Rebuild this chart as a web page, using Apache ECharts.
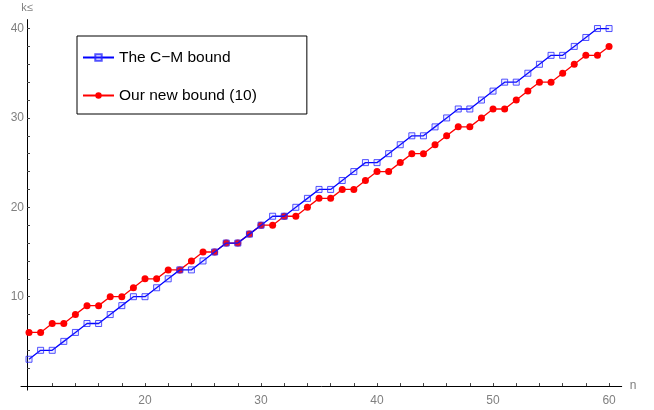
<!DOCTYPE html>
<html>
<head>
<meta charset="utf-8">
<script src="https://cdn.jsdelivr.net/npm/echarts@6/dist/echarts.min.js"></script>
<style>
html,body{margin:0;padding:0;background:#fff;}
#chart{width:654px;height:410px;}
</style>
</head>
<body>
<div id="chart"></div>
<script>
// Data
const nValues = [10,11,12,13,14,15,16,17,18,19,20,21,22,23,24,25,26,27,28,29,30,
  31,32,33,34,35,36,37,38,39,40,41,42,43,44,45,46,47,48,49,50,
  51,52,53,54,55,56,57,58,59,60];
const cmBound = [3,4,4,5,6,7,7,8,9,10,10,11,12,13,13,14,15,16,16,17,18,
  19,19,20,21,22,22,23,24,25,25,26,27,28,28,29,30,31,31,32,33,
  34,34,35,36,37,37,38,39,40,40];
const newBound = [6,6,7,7,8,9,9,10,10,11,12,12,13,13,14,15,15,16,16,17,18,
  18,19,19,20,21,21,22,22,23,24,24,25,26,26,27,28,29,29,30,31,
  31,32,33,34,34,35,36,37,37,38];
const seriesNames = ['The C\u2212M bound', 'Our new bound (10)'];
const xLabelValues = [20,30,40,50,60];
const xTickValues = [12,14,16,18,20,22,24,26,28,30,32,34,36,38,40,42,44,46,48,50,52,54,56,58,60];
const yLabelValues = [10,20,30,40];
const yTickValues = [2,4,6,8,10,12,14,16,18,20,22,24,26,28,30,32,34,36,38,40];
const xTitle = 'n';
const yTitle = 'k\u2264';

const font = "'Liberation Sans', Arial, sans-serif";
const chart = echarts.init(document.getElementById('chart'));
chart.setOption({
  animation: false,
  backgroundColor: '#fff',
  grid: { left: 21, right: 32.3, top: 19.6, bottom: 19.9, containLabel: false },
  xAxis: {
    type: 'value', min: 9.31, max: 61.09,
    name: xTitle, nameLocation: 'end', nameGap: 8,
    nameTextStyle: { color: '#808080', fontSize: 12, fontFamily: font, padding: [0,0,4,0] },
    axisLine: { onZero: true, lineStyle: { color: '#000', width: 1 } },
    axisTick: { inside: true, length: 3, customValues: xTickValues, lineStyle: { color: '#444' } },
    axisLabel: { customValues: xLabelValues, color: '#808080', fontSize: 12, fontFamily: font, margin: 5 },
    splitLine: { show: false }
  },
  yAxis: {
    type: 'value', min: -0.45, max: 41,
    offset: -6,
    name: yTitle, nameLocation: 'end', nameGap: 6,
    nameTextStyle: { color: '#808080', fontSize: 11, fontFamily: font },
    axisLine: { show: true, onZero: false, lineStyle: { color: '#000', width: 1 } },
    axisTick: { inside: true, length: 3, customValues: yTickValues, lineStyle: { color: '#444' } },
    axisLabel: { customValues: yLabelValues, color: '#808080', fontSize: 12, fontFamily: font, margin: 3 },
    splitLine: { show: false }
  },
  legend: {
    data: seriesNames,
    orient: 'vertical',
    left: 77, top: 36,
    padding: [13.5, 50, 10.5, 5],
    itemWidth: 31, itemHeight: 8, itemGap: 22,
    borderColor: '#000', borderWidth: 1,
    textStyle: { color: '#000', fontSize: 15.5, fontFamily: font }
  },
  series: [
    {
      name: seriesNames[1], type: 'line', z: 2,
      data: nValues.map((n, i) => [n, newBound[i]]),
      symbol: 'circle', symbolSize: 7,
      lineStyle: { color: '#ff0000', width: 1.3 },
      itemStyle: { color: '#ff0000' }
    },
    {
      name: seriesNames[0], type: 'line', z: 3,
      data: nValues.map((n, i) => [n, cmBound[i]]),
      symbol: 'rect', symbolSize: 6,
      lineStyle: { color: '#0000ff', width: 1.3 },
      itemStyle: { color: 'rgba(120,120,255,0.12)', borderColor: 'rgba(40,40,255,0.8)', borderWidth: 1 }
    }
  ]
});
</script>
</body>
</html>
